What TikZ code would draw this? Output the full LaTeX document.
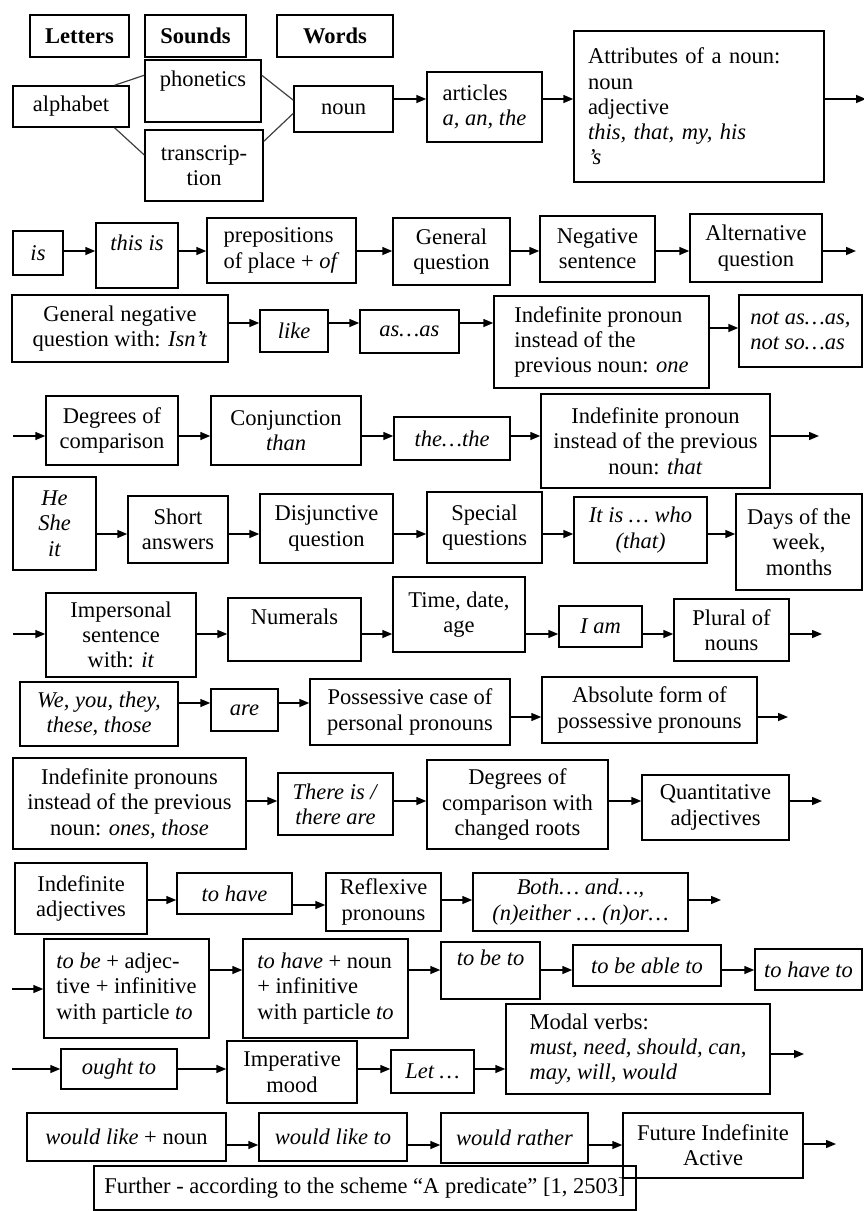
\documentclass[tikz,border=0pt]{standalone}
\usepackage{fontspec}
\setmainfont{Liberation Serif}
\usetikzlibrary{arrows.meta}

\begin{document}
\begin{tikzpicture}[x=1pt,y=-1pt,
  every node/.style={font=\fontsize{22.5}{25.3}\selectfont},
  box/.style={draw, line width=1.5pt, rectangle, inner sep=2pt, align=center},
  lbox/.style={box, align=left},
  arr/.style={line width=1.5pt, -{Triangle[length=10pt,width=8pt]}},
  lnk/.style={line width=1.2pt, draw=black!75}]
\useasboundingbox (0,0) rectangle (863,1211);

% top: letters, sounds, words
\node[box, minimum width=99pt, minimum height=42pt] (letters) at (79.5,36) {\textbf{Letters}};
\node[box, minimum width=101pt, minimum height=42pt] (sounds) at (195.5,36) {\textbf{Sounds}};
\node[box, minimum width=116pt, minimum height=42pt] (words) at (335,36) {\textbf{Words}};
\node[box, minimum width=116pt, minimum height=41pt] (alph) at (71,106.5) {alphabet};
\node[box, minimum width=116pt, minimum height=62pt] (phon) at (203,91) {phonetics\\ \mbox{}};
\node[box, minimum width=118pt, minimum height=71pt] (trans) at (204,165.5) {transcrip-\\ tion};
\node[box, minimum width=99pt, minimum height=46pt] (noun) at (343.5,109) {noun};
\node[lbox, minimum width=115pt, minimum height=70pt] (art) at (484.5,107) {articles\\ \textit{a, an, the}};
\node[lbox, minimum width=250pt, minimum height=151pt, text width=222pt, inner xsep=14pt] (attr) at (699,106.5) {Attributes of a noun:\\ noun\\ adjective\\ \textit{this, that, my, his}\\ \textit{’s}};

% row 2
\node[box, minimum width=50pt, minimum height=44pt] (is) at (38,253) {\textit{is}};
\node[box, minimum width=82pt, minimum height=65pt] (this) at (137,255.5) {\textit{this is}\\ \mbox{}};
\node[lbox, minimum width=149pt, minimum height=65pt] (prep) at (281.5,250.5) {prepositions\\ of place + \textit{of}};
\node[box, minimum width=117pt, minimum height=67pt] (genq) at (451.5,251.5) {General\\ question};
\node[box, minimum width=115pt, minimum height=66pt] (negs) at (597.5,249) {Negative\\ sentence};
\node[box, minimum width=132pt, minimum height=68pt] (altq) at (756,248) {Alternative\\ question};

% row 3
\node[box, minimum width=216pt, minimum height=67pt] (gnq) at (120,328.5) {General negative\\ question with: \textit{Isn’t}};
\node[box, minimum width=68pt, minimum height=42pt] (like) at (294,331) {\textit{like}};
\node[box, minimum width=99pt, minimum height=43pt] (asas) at (409.5,331.5) {\textit{as…as}};
\node[lbox, minimum width=215pt, minimum height=92pt] (indone) at (601.5,342) {Indefinite pronoun\\ instead of the\\ previous noun: \textit{one}};
\node[lbox, minimum width=123pt, minimum height=72pt] (notas) at (800.5,331) {\textit{not as…as,}\\ \textit{not so…as}};

% row 4
\node[box, minimum width=132pt, minimum height=69pt] (deg) at (112,430.5) {Degrees of\\ comparison};
\node[box, minimum width=150pt, minimum height=69pt] (conj) at (286,430.5) {Conjunction\\ \textit{than}};
\node[box, minimum width=116pt, minimum height=43pt] (thethe) at (452,438.5) {\textit{the…the}};
\node[box, minimum width=229pt, minimum height=94pt] (indthat) at (655.5,441) {Indefinite pronoun\\ instead of the previous\\ noun: \textit{that}};

% row 5
\node[box, minimum width=83pt, minimum height=93pt] (he) at (54.5,523.5) {\textit{He}\\ \textit{She}\\ \textit{it}};
\node[box, minimum width=100pt, minimum height=67pt] (short) at (178,529.5) {Short\\ answers};
\node[box, minimum width=133pt, minimum height=69pt] (disj) at (326.5,528.5) {Disjunctive\\ question};
\node[box, minimum width=115pt, minimum height=71pt] (spec) at (484.5,527.5) {Special\\ questions};
\node[box, minimum width=133pt, minimum height=66pt] (itis) at (640.5,530) {\textit{It is … who}\\ \textit{(that)}};
\node[box, minimum width=126pt, minimum height=96pt] (days) at (799,542) {Days of the\\ week,\\ months};

% row 6
\node[box, minimum width=150pt, minimum height=84pt] (imps) at (121,635) {Impersonal\\ sentence\\ with: \textit{it}};
\node[box, minimum width=133pt, minimum height=63pt] (num) at (294.5,629.5) {Numerals\\ \mbox{}};
\node[box, minimum width=132pt, minimum height=75pt] (time) at (459,614.5) {Time, date,\\ age};
\node[box, minimum width=83pt, minimum height=41pt] (iam) at (600.5,626.5) {\textit{I am}};
\node[box, minimum width=115pt, minimum height=62pt] (plur) at (731.5,630) {Plural of\\ nouns};

% row 7
\node[box, minimum width=158pt, minimum height=64pt] (we) at (99,714) {\textit{We, you, they,}\\ \textit{these, those}};
\node[box, minimum width=67pt, minimum height=42pt] (are) at (244.5,710) {\textit{are}};
\node[box, minimum width=200pt, minimum height=66pt] (poss) at (410,712) {Possessive case of\\ personal pronouns};
\node[box, minimum width=215pt, minimum height=66pt] (abs) at (649.5,710) {Absolute form of\\ possessive pronouns};

% row 8
\node[box, minimum width=233pt, minimum height=91pt] (indpl) at (129.5,803.5) {Indefinite pronouns\\ instead of the previous\\ noun: \textit{ones, those}};
\node[box, minimum width=115pt, minimum height=62pt] (there) at (335.5,804) {\textit{There is /}\\ \textit{there are}};
\node[box, minimum width=181pt, minimum height=89pt] (degch) at (517.5,804.5) {Degrees of\\ comparison with\\ changed roots};
\node[box, minimum width=147pt, minimum height=65pt] (quant) at (715.5,807.5) {Quantitative\\ adjectives};

% row 9
\node[box, minimum width=132pt, minimum height=71pt] (indadj) at (81,898.5) {Indefinite\\ adjectives};
\node[box, minimum width=115pt, minimum height=41pt] (tohave) at (234.5,893.5) {\textit{to have}};
\node[box, minimum width=115pt, minimum height=58pt] (refl) at (383.5,902) {Reflexive\\ pronouns};
\node[box, minimum width=215pt, minimum height=58pt] (both) at (580.5,902) {\textit{Both… and…,}\\ \textit{(n)either … (n)or…}};

% row 10
\node[lbox, minimum width=165pt, minimum height=99pt] (tobe) at (126.5,988.5) {\textit{to be} + adjec-\\ tive + infinitive\\ with particle \textit{to}};
\node[lbox, minimum width=165pt, minimum height=99pt] (tohn) at (325.5,988.5) {\textit{to have} + noun\\ + infinitive\\ with particle \textit{to}};
\node[box, minimum width=99pt, minimum height=57pt] (tobeto) at (490.5,970.5) {\textit{to be to}\\ \mbox{}};
\node[box, minimum width=148pt, minimum height=41pt] (able) at (647,965.5) {\textit{to be able to}};
\node[box, minimum width=107pt, minimum height=41pt] (haveto) at (808.5,969.5) {\textit{to have to}};

% row 11
\node[box, minimum width=116pt, minimum height=40pt] (ought) at (119,1069) {\textit{ought to}};
\node[box, minimum width=130pt, minimum height=62pt] (impm) at (292,1072) {Imperative\\ mood};
\node[box, minimum width=83pt, minimum height=43pt] (let) at (432.5,1071.5) {\textit{Let …}};
\node[lbox, minimum width=264pt, minimum height=90pt] (modal) at (638,1049) {Modal verbs:\\ \textit{must, need, should, can,}\\ \textit{may, will, would}};

% row 12
\node[box, minimum width=199pt, minimum height=48pt] (wln) at (126.5,1137) {\textit{would like} + noun};
\node[box, minimum width=148pt, minimum height=48pt] (wlt) at (333,1137) {\textit{would like to}};
\node[box, minimum width=147pt, minimum height=50pt] (wr) at (514.5,1138) {\textit{would rather}};
\node[box, minimum width=180pt, minimum height=65pt] (fut) at (713,1145.5) {Future Indefinite\\ Active};
\node[box, minimum width=542pt, minimum height=44pt] (further) at (365,1188) {Further - according to the scheme “A predicate” [1, 2503]};

% links of the first block
\draw[lnk] (alph.26) -- (phon.165);
\draw[lnk] (alph.-26) -- (trans.170);
\draw[lnk] (phon.15) -- (noun.170);
\draw[lnk] (trans.22) -- (noun.185);

% row levels and free ends
\coordinate (yA) at (0,99);
\coordinate (outA) at (866,99);
\coordinate (yB) at (0,251);
\coordinate (outB) at (856,251);
\coordinate (yC) at (0,323);
\coordinate (yC2) at (0,328);
\coordinate (inD) at (13,436);
\coordinate (outD) at (819,436);
\coordinate (yE) at (0,534);
\coordinate (inF) at (13,634);
\coordinate (outF) at (822,634);
\coordinate (yG) at (0,703);
\coordinate (outG) at (788,717);
\coordinate (outH) at (822,801);
\coordinate (yI) at (0,900);
\coordinate (yI2) at (0,905);
\coordinate (outI) at (721,900);
\coordinate (inJ) at (12,989);
\coordinate (yJ) at (0,970);
\coordinate (inK) at (12,1069);
\coordinate (outK) at (804,1054);
\coordinate (yL) at (0,1145);
\coordinate (outL) at (836,1144);

\draw[arr] (noun.east |- yA) -- (art.west |- yA);
\draw[arr] (art.east |- yA) -- (attr.west |- yA);
\draw[arr] (attr.east |- yA) -- (outA);

\draw[arr] (is.east |- yB) -- (this.west |- yB);
\draw[arr] (this.east |- yB) -- (prep.west |- yB);
\draw[arr] (prep.east |- yB) -- (genq.west |- yB);
\draw[arr] (genq.east |- yB) -- (negs.west |- yB);
\draw[arr] (negs.east |- yB) -- (altq.west |- yB);
\draw[arr] (altq.east |- yB) -- (outB);

\draw[arr] (gnq.east |- yC) -- (like.west |- yC);
\draw[arr] (like.east |- yC) -- (asas.west |- yC);
\draw[arr] (asas.east |- yC) -- (indone.west |- yC);
\draw[arr] (indone.east |- yC2) -- (notas.west |- yC2);

\draw[arr] (inD) -- (deg.west |- inD);
\draw[arr] (deg.east |- inD) -- (conj.west |- inD);
\draw[arr] (conj.east |- inD) -- (thethe.west |- inD);
\draw[arr] (thethe.east |- inD) -- (indthat.west |- inD);
\draw[arr] (indthat.east |- outD) -- (outD);

\draw[arr] (he.east |- yE) -- (short.west |- yE);
\draw[arr] (short.east |- yE) -- (disj.west |- yE);
\draw[arr] (disj.east |- yE) -- (spec.west |- yE);
\draw[arr] (spec.east |- yE) -- (itis.west |- yE);
\draw[arr] (itis.east |- yE) -- (days.west |- yE);

\draw[arr] (inF) -- (imps.west |- inF);
\draw[arr] (imps.east |- inF) -- (num.west |- inF);
\draw[arr] (num.east |- inF) -- (time.west |- inF);
\draw[arr] (time.east |- inF) -- (iam.west |- inF);
\draw[arr] (iam.east |- inF) -- (plur.west |- inF);
\draw[arr] (plur.east |- outF) -- (outF);

\draw[arr] (we.east |- yG) -- (are.west |- yG);
\draw[arr] (are.east |- yG) -- (poss.west |- yG);
\draw[arr] (poss.east |- outG) -- (abs.west |- outG);
\draw[arr] (abs.east |- outG) -- (outG);

\draw[arr] (indpl.east |- outH) -- (there.west |- outH);
\draw[arr] (there.east |- outH) -- (degch.west |- outH);
\draw[arr] (degch.east |- outH) -- (quant.west |- outH);
\draw[arr] (quant.east |- outH) -- (outH);

\draw[arr] (indadj.east |- yI) -- (tohave.west |- yI);
\draw[arr] (tohave.east |- yI2) -- (refl.west |- yI2);
\draw[arr] (refl.east |- yI) -- (both.west |- yI);
\draw[arr] (both.east |- outI) -- (outI);

\draw[arr] (inJ) -- (tobe.west |- inJ);
\draw[arr] (tobe.east |- yJ) -- (tohn.west |- yJ);
\draw[arr] (tohn.east |- yJ) -- (tobeto.west |- yJ);
\draw[arr] (tobeto.east |- yJ) -- (able.west |- yJ);
\draw[arr] (able.east |- yJ) -- (haveto.west |- yJ);

\draw[arr] (inK) -- (ought.west |- inK);
\draw[arr] (ought.east |- inK) -- (impm.west |- inK);
\draw[arr] (impm.east |- inK) -- (let.west |- inK);
\draw[arr] (let.east |- inK) -- (modal.west |- inK);
\draw[arr] (modal.east |- outK) -- (outK);

\draw[arr] (wln.east |- yL) -- (wlt.west |- yL);
\draw[arr] (wlt.east |- yL) -- (wr.west |- yL);
\draw[arr] (wr.east |- yL) -- (fut.west |- yL);
\draw[arr] (fut.east |- outL) -- (outL);
\end{tikzpicture}
\end{document}
